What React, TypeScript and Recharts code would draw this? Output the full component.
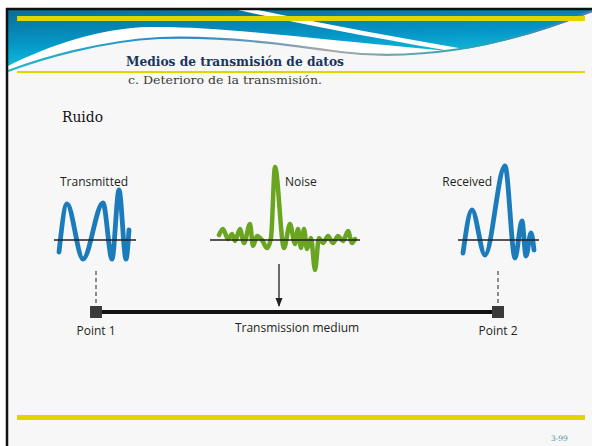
import React from "react";
import { ComposedChart, Line, XAxis, YAxis, ReferenceDot } from "recharts";

// positions along the diagram and amplitudes (baseline = 0)
const transmittedPos = [59, 67, 83, 103, 112, 119, 126, 129];
const transmittedAmp = [-12, 36, -19, 37, -19, 50, -19, 10];

const noisePos = [219, 223, 228, 232, 235, 240, 244, 250, 253, 257, 262, 267, 271, 275, 284, 290, 295, 298, 301, 304, 307, 311, 315, 319, 323, 328, 333, 338, 343, 348, 352, 355];
const noiseAmp = [5, 11, 1, 6, -1, 11, -3, 16, -6, 4, 0, -8, 2, 73, -8, 16, -4, 11, -8, 11, -9, 2, -30, 2, -3, 4, -3, 4, -1, 9, -3, 1];

const receivedPos = [463, 472, 485, 505, 515, 522, 526, 531, 534];
const receivedAmp = [-13, 30, -15, 74, -18, 19, -16, 7, -10];

const waveNames = ["Transmitted", "Noise", "Received"];
const waveAxes = [[54, 136], [210, 360], [458, 539]];

const pointNames = ["Point 1", "Transmission medium", "Point 2"];
const mediumEnds = [96, 498];
const mediumLevel = -72;
const tapLevels = [-31, -66];
const noiseArrowPos = 279;
const noiseArrowLevels = [-24, -66];

const BLUE = "#1c7cbb";
const GREEN = "#6aa521";
const INK = "#231f20";
const YELLOW = "#e2d400";

const toPts = (pos: number[], amp: number[]) => pos.map((p, i) => ({ pos: p, amp: amp[i] }));

const transmitted = toPts(transmittedPos, transmittedAmp);
const noise = toPts(noisePos, noiseAmp);
const received = toPts(receivedPos, receivedAmp);
const axes = waveAxes.map(([a, b]) => toPts([a, b], [0, 0]));
const medium = toPts(mediumEnds, [mediumLevel, mediumLevel]);
const taps = mediumEnds.map(p => toPts([p, p], tapLevels));
const arrow = toPts([noiseArrowPos, noiseArrowPos], noiseArrowLevels);

const Square = (props: any) => {
  const { cx, cy } = props;
  if (cx == null || cy == null) return null;
  return <rect x={cx - 6} y={cy - 6} width={12} height={12} fill="#3a3a3a" />;
};

const ArrowHead = (props: any) => {
  const { cx, cy, index } = props;
  if (index !== 1 || cx == null) return null;
  return <path d={`M${cx - 3.5},${cy - 8} L${cx + 3.5},${cy - 8} L${cx},${cy + 1} Z`} fill={INK} />;
};

const textAt = (value: string, anchor: "start" | "middle" | "end", size = 12) => (props: any) => (
  <text x={props.cx} y={props.cy} textAnchor={anchor} fontFamily="'Open Sans', sans-serif" fontSize={size} fill={INK}>
    {value}
  </text>
);

function Diagram() {
  return (
    <ComposedChart width={520} height={200} margin={{ top: 0, right: 0, bottom: 0, left: 0 }}>
      <XAxis type="number" dataKey="pos" domain={[40, 560]} hide allowDataOverflow />
      <YAxis type="number" domain={[-110, 90]} hide allowDataOverflow />
      <Line data={transmitted} dataKey="amp" type="monotone" stroke={BLUE} strokeWidth={4.8} strokeLinecap="round" dot={false} isAnimationActive={false} />
      <Line data={noise} dataKey="amp" type="monotone" stroke={GREEN} strokeWidth={4.5} strokeLinecap="round" strokeLinejoin="round" dot={false} isAnimationActive={false} />
      <Line data={received} dataKey="amp" type="monotone" stroke={BLUE} strokeWidth={4.8} strokeLinecap="round" dot={false} isAnimationActive={false} />
      {axes.map((d, i) => (
        <Line key={i} data={d} dataKey="amp" type="linear" stroke={INK} strokeWidth={1.3} dot={false} isAnimationActive={false} />
      ))}
      {taps.map((d, i) => (
        <Line key={"t" + i} data={d} dataKey="amp" type="linear" stroke="#444" strokeWidth={1.2} strokeDasharray="4 3" dot={false} isAnimationActive={false} />
      ))}
      <Line data={arrow} dataKey="amp" type="linear" stroke={INK} strokeWidth={1.3} dot={<ArrowHead />} activeDot={false} isAnimationActive={false} />
      <Line data={medium} dataKey="amp" type="linear" stroke="#111" strokeWidth={4} dot={<Square />} activeDot={false} isAnimationActive={false} />
      <ReferenceDot x={94} y={54} r={0} shape={textAt(waveNames[0], "middle")} />
      <ReferenceDot x={285} y={54} r={0} shape={textAt(waveNames[1], "start")} />
      <ReferenceDot x={492} y={54} r={0} shape={textAt(waveNames[2], "end")} />
      <ReferenceDot x={mediumEnds[0]} y={-95} r={0} shape={textAt(pointNames[0], "middle")} />
      <ReferenceDot x={(mediumEnds[0] + mediumEnds[1]) / 2} y={-92} r={0} shape={textAt(pointNames[1], "middle")} />
      <ReferenceDot x={mediumEnds[1]} y={-95} r={0} shape={textAt(pointNames[2], "middle")} />
    </ComposedChart>
  );
}

function SlideBackground() {
  const serif = "'DejaVu Serif', 'Liberation Serif', serif";
  return (
    <svg width={592} height={446} style={{ position: "absolute", left: 0, top: 0 }}>
      <defs>
        <linearGradient id="hdr" x1="0" y1="0" x2="0.25" y2="1">
          <stop offset="0" stopColor="#0a6d96" />
          <stop offset="0.5" stopColor="#0597c8" />
          <stop offset="1" stopColor="#1bd2e6" />
        </linearGradient>
        <linearGradient id="edge" x1="0" y1="0" x2="1" y2="0">
          <stop offset="0" stopColor="#27b9c8" />
          <stop offset="0.3" stopColor="#2a86c8" />
          <stop offset="0.55" stopColor="#a8a8a8" />
          <stop offset="0.8" stopColor="#22a6b8" />
          <stop offset="1" stopColor="#4a7cc0" />
        </linearGradient>
      </defs>
      <rect x={0} y={0} width={592} height={446} fill="#ffffff" />
      <rect x={7} y={9} width={590} height={440} fill="#f7f7f7" />
      <rect x={8} y={10} width={584} height={66} fill="url(#hdr)" />
      <path d="M8,66 C50,45 100,28 150,27 C220,26 300,38 470,53 L470,62 L8,76 Z" fill="#ffffff" />
      <path d="M238,10 L258,10 C330,25 400,38 470,50 L462,53 C392,41 320,28 238,10 Z" fill="#ffffff" />
      <path d="M8,72 C40,60 100,42 160,39 C230,37 290,46 340,53 C380,58 420,56 460,50 C510,42 560,25 592,12 L592,446 L8,446 Z" fill="#f7f7f7" />
      <path d="M8,71 C40,59 100,41 160,38 C230,36 290,45 340,52 C380,57 420,55 460,49 C510,41 560,24 592,11" fill="none" stroke="url(#edge)" strokeWidth={2.2} />
      <line x1={7} y1={8} x2={7} y2={446} stroke="#111" strokeWidth={2.5} />
      <line x1={6} y1={9} x2={592} y2={9} stroke="#111" strokeWidth={2.5} />
      <rect x={17} y={16} width={568} height={5} fill={YELLOW} />
      <rect x={17} y={71} width={568} height={2} fill={YELLOW} />
      <rect x={17} y={415} width={568} height={5} fill={YELLOW} />
      <text x={126} y={66} fontFamily={serif} fontWeight="bold" fontSize={12} textLength={218} lengthAdjust="spacingAndGlyphs" fill="#17365d">Medios de transmisión de datos</text>
      <text x={128} y={84} fontFamily={serif} fontSize={11.5} textLength={194} lengthAdjust="spacingAndGlyphs" fill="#3a3a3a">c. Deterioro de la transmisión.</text>
      <text x={62} y={122} fontFamily={serif} fontSize={14} textLength={41} lengthAdjust="spacingAndGlyphs" fill="#111">Ruido</text>
      <text x={551} y={441} fontFamily={serif} fontSize={7.5} fill="#4a8fa3">3-99</text>
    </svg>
  );
}

export default function App() {
  return (
    <div style={{ position: "absolute", left: 0, top: 0, width: 592, height: 446, overflow: "hidden" }}>
      <SlideBackground />
      <div style={{ position: "absolute", left: 40, top: 150 }}>
        <Diagram />
      </div>
    </div>
  );
}
